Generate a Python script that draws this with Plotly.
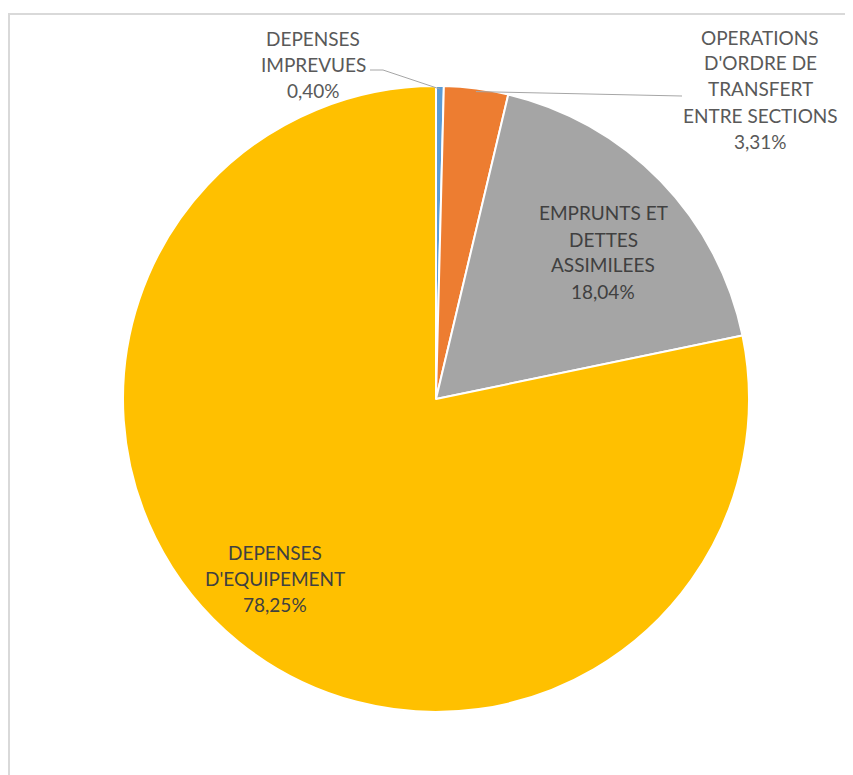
import math
import plotly.graph_objects as go

labels = ["DEPENSES IMPREVUES", "OPERATIONS D'ORDRE DE TRANSFERT ENTRE SECTIONS",
          "EMPRUNTS ET DETTES ASSIMILEES", "DEPENSES D'EQUIPEMENT"]
label_lines = [["DEPENSES", "IMPREVUES"],
               ["OPERATIONS", "D'ORDRE DE", "TRANSFERT", "ENTRE SECTIONS"],
               ["EMPRUNTS ET", "DETTES", "ASSIMILEES"],
               ["DEPENSES", "D'EQUIPEMENT"]]
values = [0.40, 3.31, 18.04, 78.25]
pct_text = ["0,40%", "3,31%", "18,04%", "78,25%"]
colors = ["#5B9BD5", "#ED7D31", "#A5A5A5", "#FFC000"]

OFF = 8  # page body margin
W, H = 853 - OFF, 775 - OFF
CX, CY, R = 436, 399, 313

def px(x):
    return (x - OFF) / W

def py(y):
    return 1 - (y - OFF) / H

fig = go.Figure(go.Pie(
    labels=labels, values=values, sort=False, direction="clockwise", rotation=0,
    marker=dict(colors=colors, line=dict(color="white", width=2)),
    textinfo="none", hoverinfo="skip", showlegend=False,
    domain=dict(x=[px(CX - R), px(CX + R)], y=[py(CY + R), py(CY - R)]),
))

# label placement (pixel centers of first line) and text colors
label_pos = [(313, 38), (760, 37), (603, 213), (275, 552)]
label_col = ["#595959", "#595959", "#404040", "#404040"]
LS = 26
anns = []
for i in range(len(values)):
    lines = label_lines[i] + [pct_text[i]]
    x0, y0 = label_pos[i]
    for k, t in enumerate(lines):
        anns.append(dict(x=px(x0), y=py(y0 + k * LS), xref="paper", yref="paper",
                         text=t, showarrow=False, xanchor="center", yanchor="middle",
                         font=dict(family="Lato", size=19, color=label_col[i])))

# leader lines from slice edge (computed from data) to outside labels
total = sum(values)
cum = 0
mids = []
for v in values:
    mids.append((cum + v / 2) / total * 2 * math.pi)
    cum += v

def edge(i, rr=R - 3):
    a = mids[i]
    return CX + rr * math.sin(a), CY - rr * math.cos(a)

shapes = []
ex, ey = edge(0)
shapes.append(dict(type="path", xref="paper", yref="paper",
                   path=f"M {px(370)} {py(70)} L {px(383)} {py(70)} L {px(ex)} {py(ey)}",
                   line=dict(color="#A6A6A6", width=1)))
ex, ey = edge(1)
shapes.append(dict(type="path", xref="paper", yref="paper",
                   path=f"M {px(ex)} {py(ey)} L {px(682)} {py(96)}",
                   line=dict(color="#A6A6A6", width=1)))
# chart frame
shapes.append(dict(type="rect", xref="paper", yref="paper",
                   x0=px(9), y0=py(H + 40), x1=px(W + 40), y1=py(14),
                   line=dict(color="#D9D9D9", width=2), fillcolor="rgba(0,0,0,0)"))

fig.update_layout(
    width=W, height=H, margin=dict(l=0, r=0, t=0, b=0),
    paper_bgcolor="white", plot_bgcolor="white",
    annotations=anns, shapes=shapes,
)
fig.write_html("out.html")
